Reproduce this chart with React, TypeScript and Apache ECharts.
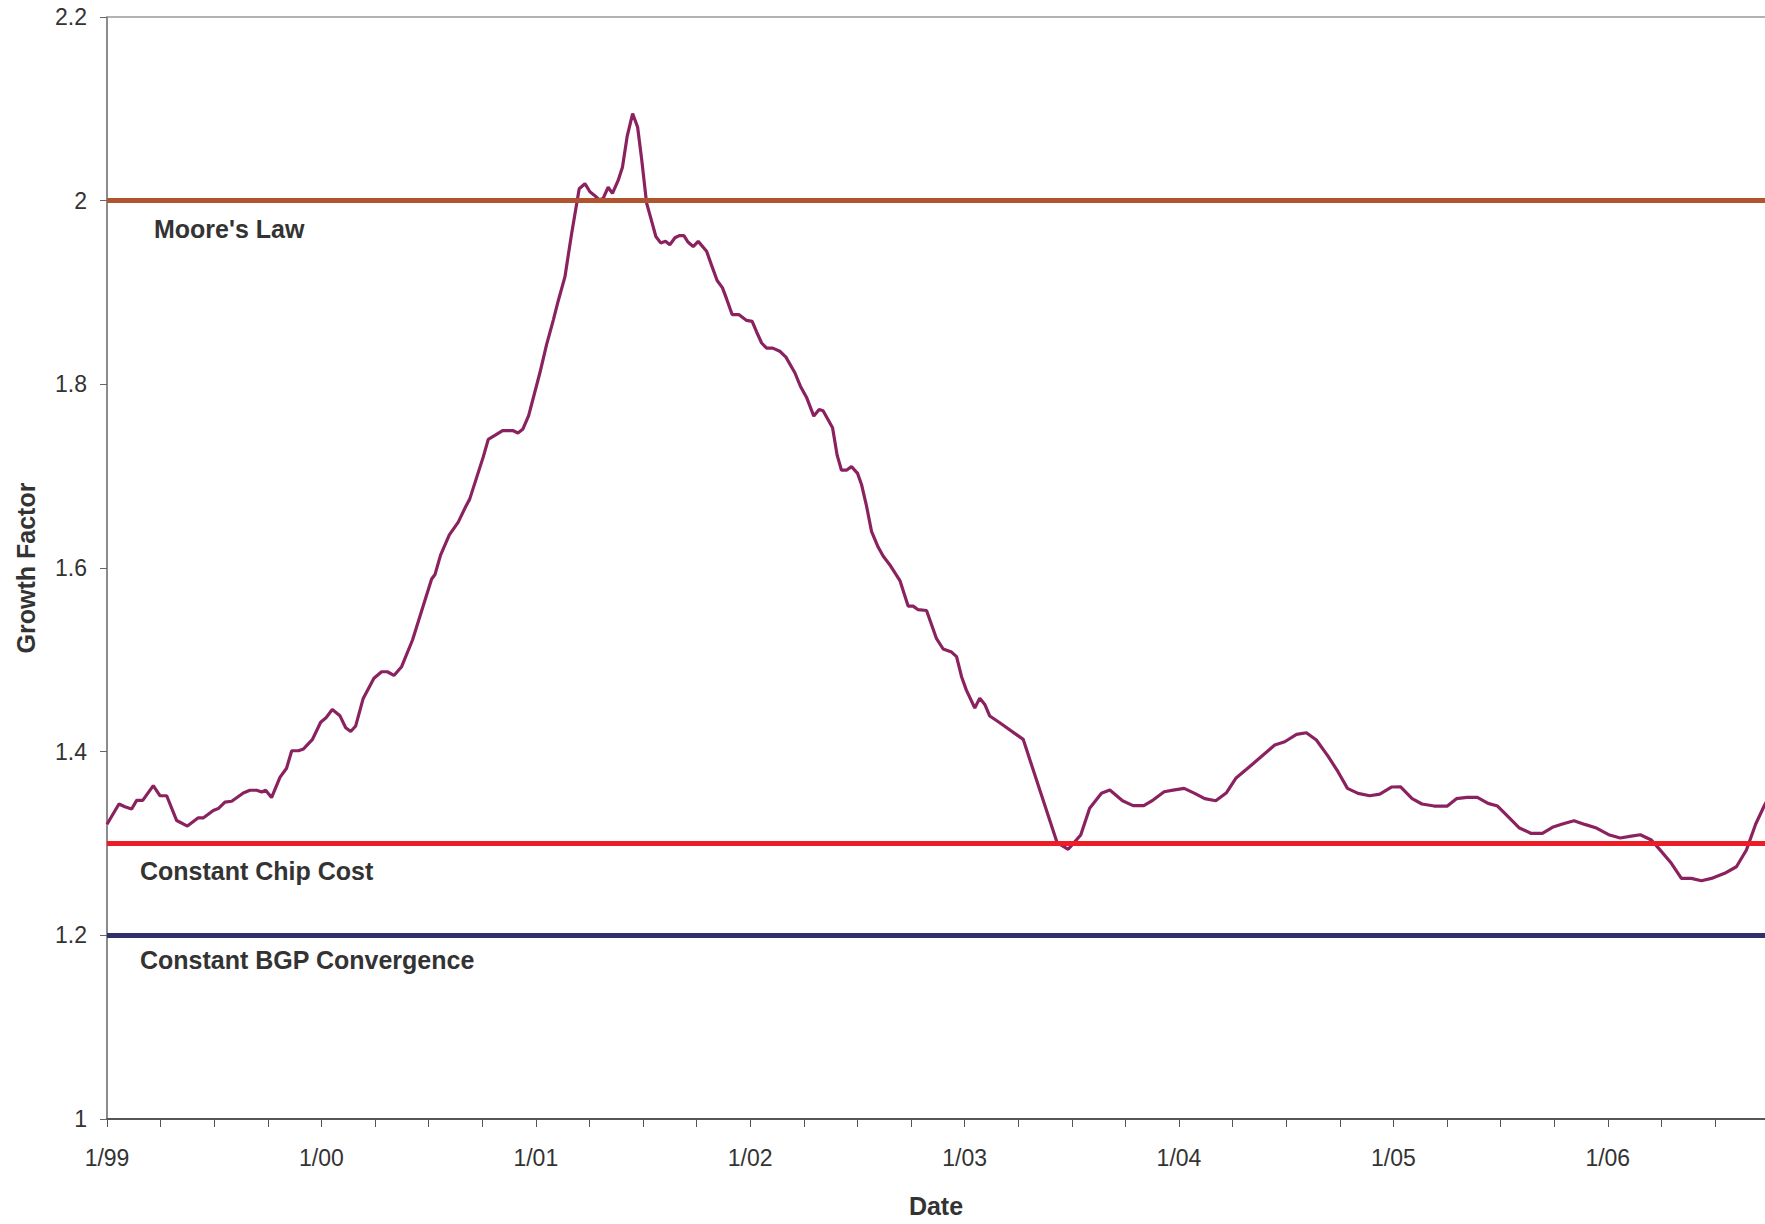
import React, { useEffect, useRef } from "react";
import * as echarts from "echarts";

// Months since January 1999 (x) and growth factor (y)
const monthsSince1999 = [
  0, 0.67, 1.0, 1.38, 1.66, 2.0, 2.59, 2.96, 3.34, 3.9, 4.5, 5.11, 5.4, 5.95, 6.23, 6.6, 6.98,
  7.63, 8.0, 8.38, 8.66, 8.88, 9.21, 9.68, 10.05, 10.34, 10.71, 11.0, 11.49, 11.96, 12.26, 12.61,
  13.04, 13.36, 13.64, 13.92, 14.34, 14.94, 15.37, 15.69, 16.06, 16.49, 17.1, 17.67, 18.17, 18.36,
  18.67, 19.16, 19.66, 20.08, 20.3, 21.06, 21.34, 21.8, 22.14, 22.74, 23.0, 23.27, 23.6, 24.23,
  24.6, 24.98, 25.25, 25.63, 26.0, 26.43, 26.75, 27.03, 27.27, 27.55, 27.77, 28.05, 28.29, 28.61,
  28.85, 29.12, 29.42, 29.7, 29.92, 30.2, 30.48, 30.72, 30.99, 31.26, 31.5, 31.79, 32.03, 32.29,
  32.53, 32.81, 33.09, 33.56, 33.85, 34.15, 34.45, 34.68, 34.99, 35.36, 35.8, 36.11, 36.36, 36.64,
  36.92, 37.26, 37.66, 38.0, 38.5, 38.81, 39.15, 39.56, 39.86, 40.08, 40.61, 40.87, 41.11, 41.39,
  41.67, 42.01, 42.23, 42.51, 42.79, 43.16, 43.44, 43.82, 44.38, 44.84, 45.12, 45.4, 45.87, 46.43,
  46.8, 47.27, 47.55, 47.83, 48.1, 48.57, 48.85, 49.13, 49.41, 49.97, 51.28, 52.21, 53.18, 53.8,
  54.5, 55.0, 55.66, 56.13, 56.84, 57.43, 58.03, 58.55, 59.17, 59.67, 60.29, 60.88, 61.44, 62.06,
  62.66, 63.18, 63.78, 64.71, 65.36, 65.92, 66.58, 67.13, 67.69, 68.34, 68.9, 69.43, 70.02, 70.68,
  71.24, 71.89, 72.39, 73.05, 73.6, 74.28, 75.02, 75.53, 76.12, 76.7, 77.3, 77.83, 78.42, 79.03,
  79.69, 80.34, 80.9, 81.46, 82.11, 82.71, 83.32, 84.1, 84.7, 85.32, 85.82, 86.44, 86.9, 87.56,
  88.12, 88.68, 89.24, 89.8, 90.54, 91.2, 91.76, 92.28, 92.78, 93.3,
];

const growthFactor = [
  1.321, 1.343, 1.34, 1.3375, 1.347, 1.347, 1.363, 1.352, 1.352, 1.325, 1.319, 1.328, 1.328, 1.336,
  1.338, 1.345, 1.346, 1.355, 1.358, 1.358, 1.356, 1.358, 1.35, 1.372, 1.382, 1.401, 1.401, 1.403,
  1.413, 1.432, 1.437, 1.446, 1.439, 1.426, 1.422, 1.428, 1.458, 1.48, 1.487, 1.487, 1.483, 1.4925,
  1.5216, 1.557, 1.588, 1.593, 1.614, 1.636, 1.65, 1.667, 1.675, 1.721, 1.74, 1.7455, 1.7495,
  1.7495, 1.747, 1.751, 1.766, 1.8126, 1.843, 1.87, 1.8905, 1.917, 1.9635, 2.013, 2.0185, 2.0097,
  2.006, 2.001, 2.0024, 2.0146, 2.008, 2.022, 2.0365, 2.0706, 2.0949, 2.08, 2.046, 1.9976, 1.978,
  1.961, 1.954, 1.9557, 1.952, 1.9596, 1.962, 1.962, 1.9547, 1.95, 1.9557, 1.945, 1.929, 1.913,
  1.905, 1.893, 1.876, 1.876, 1.8696, 1.8686, 1.857, 1.845, 1.8394, 1.8394, 1.836, 1.8296, 1.8126,
  1.798, 1.786, 1.7654, 1.7727, 1.7712, 1.7527, 1.7226, 1.7065, 1.7065, 1.7104, 1.703, 1.691,
  1.6676, 1.64, 1.6228, 1.613, 1.6033, 1.5863, 1.5585, 1.5585, 1.5546, 1.5537, 1.523, 1.5118,
  1.5084, 1.5035, 1.4816, 1.467, 1.4476, 1.4583, 1.4514, 1.4388, 1.4315, 1.4134, 1.3582, 1.3009,
  1.2937, 1.3092, 1.3383, 1.3546, 1.3582, 1.3466, 1.3412, 1.3412, 1.3473, 1.3564, 1.3582, 1.36,
  1.3546, 1.3488, 1.3466, 1.3553, 1.371, 1.3808, 1.3963, 1.4072, 1.4108, 1.4189, 1.4206, 1.4127,
  1.3952, 1.3782, 1.36, 1.3546, 1.352, 1.3538, 1.3615, 1.3618, 1.3488, 1.343, 1.3408, 1.3408,
  1.3488, 1.3503, 1.3503, 1.3437, 1.3408, 1.3292, 1.3172, 1.3111, 1.3111, 1.3176, 1.3212, 1.3248,
  1.3208, 1.3172, 1.3092, 1.306, 1.3081, 1.3095, 1.3038, 1.2936, 1.2784, 1.262, 1.262, 1.2595,
  1.262, 1.2675, 1.2747, 1.2929, 1.3212, 1.3419, 1.36,
];

const xTickLabels = ["1/99", "1/00", "1/01", "1/02", "1/03", "1/04", "1/05", "1/06", "1/07"];

const refLineNames = ["Moore's Law", "Constant Chip Cost", "Constant BGP Convergence"];
const refLineValues = [2, 1.3, 1.2];
const refLineColors = ["#B0532F", "#EE1D25", "#2E2F6B"];
const refLabelOffsets = [
  [47, 28],
  [33, 27],
  [33, 25],
];

const FONT = "'Liberation Sans', Arial, Helvetica, sans-serif";
const TEXT = "#333333";

export default function App() {
  const ref = useRef<HTMLDivElement>(null);

  useEffect(() => {
    if (!ref.current) return;
    const chart = echarts.init(ref.current, null, { renderer: "svg" });

    const data = monthsSince1999.map((m, i) => [m, growthFactor[i]]);

    chart.setOption({
      animation: false,
      backgroundColor: "#ffffff",
      grid: { left: 107, right: 0, top: 17, bottom: 105 },
      xAxis: [
        {
          type: "value",
          min: 0,
          max: 92.8,
          interval: 3,
          name: "Date",
          nameLocation: "middle",
          nameGap: 74,
          nameTextStyle: { fontFamily: FONT, fontSize: 25, fontWeight: "bold", color: TEXT },
          axisLine: { show: true, lineStyle: { color: "#555555", width: 2 } },
          axisTick: { show: true, length: 8, lineStyle: { color: "#555555", width: 1 } },
          axisLabel: {
            fontFamily: FONT,
            fontSize: 23,
            color: TEXT,
            margin: 27,
            showMaxLabel: false,
            formatter: (v: number) => {
              const r = Math.round(v);
              if (r % 12 !== 0) return "";
              return xTickLabels[r / 12] ?? "";
            },
          },
          splitLine: { show: false },
        },
        {
          type: "value",
          position: "top",
          min: 0,
          max: 92.8,
          interval: 3,
          axisLine: { show: true, lineStyle: { color: "#999999", width: 1.5 } },
          axisTick: { show: false },
          axisLabel: { show: false },
          splitLine: { show: false },
        },
      ],
      yAxis: {
        type: "value",
        min: 1,
        max: 2.2,
        interval: 0.2,
        name: "Growth Factor",
        nameLocation: "middle",
        nameGap: 69,
        nameTextStyle: { fontFamily: FONT, fontSize: 25, fontWeight: "bold", color: TEXT },
        axisLine: { show: true, lineStyle: { color: "#666666", width: 1.5 } },
        axisTick: { show: true, length: 7, lineStyle: { color: "#666666", width: 1 } },
        axisLabel: {
          fontFamily: FONT,
          fontSize: 23,
          color: TEXT,
          margin: 20,
          formatter: (v: number) => String(Math.round(v * 10) / 10),
        },
        splitLine: { show: false },
      },
      series: [
        {
          type: "line",
          data,
          showSymbol: false,
          symbol: "none",
          clip: true,
          lineStyle: { color: "#8B2260", width: 3.2 },
          markLine: {
            silent: true,
            symbol: ["none", "none"],
            label: { show: false },
            data: refLineValues.map((v, i) => ({
              yAxis: v,
              lineStyle: { color: refLineColors[i], width: 5, type: "solid" },
            })),
          },
        },
      ],
    });

    const graphics = refLineValues.map((v, i) => {
      const p = chart.convertToPixel({ gridIndex: 0 }, [0, v]) as number[];
      return {
        type: "text",
        x: p[0] + refLabelOffsets[i][0],
        y: p[1] + refLabelOffsets[i][1],
        style: {
          text: refLineNames[i],
          fontFamily: FONT,
          fontSize: 25,
          fontWeight: "bold",
          fill: TEXT,
          align: "left",
          verticalAlign: "middle",
        },
      };
    });
    chart.setOption({ graphic: graphics });

    return () => chart.dispose();
  }, []);

  return (
    <div
      ref={ref}
      style={{ position: "absolute", left: 0, top: 0, width: 1765, height: 1224 }}
    />
  );
}
